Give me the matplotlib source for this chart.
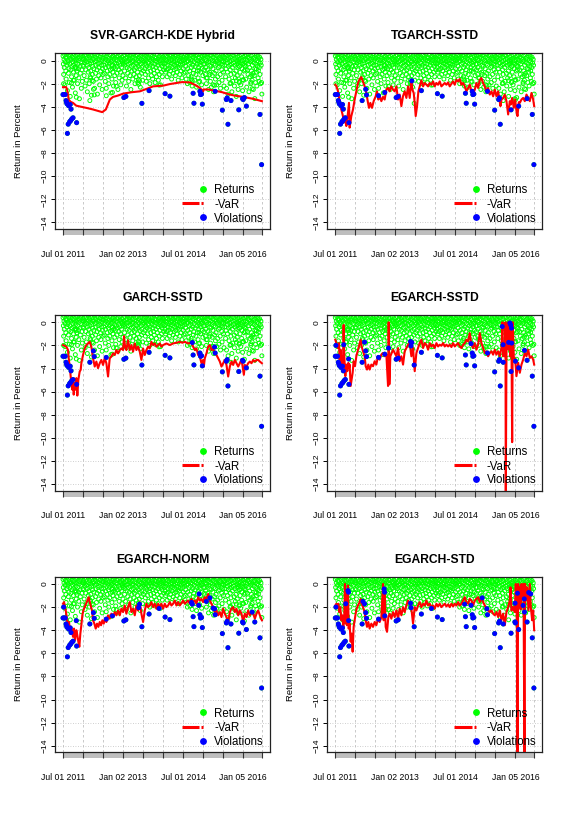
import numpy as np
import matplotlib
matplotlib.use("Agg")
import matplotlib.pyplot as plt
from matplotlib.patches import Rectangle
from matplotlib.transforms import blended_transform_factory

plt.rcParams['font.family'] = ['Liberation Sans', 'DejaVu Sans']

# ---------------- data ----------------
t_start, t_end = 2011.5, 2016.467
x_ticks = [2011.5, 2012.0, 2012.5, 2013.0, 2013.5, 2014.0, 2014.5, 2015.0, 2015.5, 2016.0, 2016.467]
x_ticklabels = ["Jul 01 2011", "", "", "Jan 02 2013", "", "", "Jul 01 2014", "", "", "Jan 05 2016", ""]
y_ticks = [0, -2, -4, -6, -8, -10, -12, -14]

# bulk of daily returns (percent), half-year by half-year
ret_2011h2 = [0.4,-0.3,-1.2,0.1,-0.6,0.5,-2.1,-0.1,0.3,-0.9,-1.6,0.2,-0.4,0.6,-2.6,-0.2,0.0,-1.1,0.4,-0.7,-1.9,0.2,-0.3,-3.1,0.5,-0.8,0.1,-1.4,-0.5,0.3,-2.3,-0.1,0.6,-1.0,-0.4,0.2,-1.7,0.0,-0.6,-2.8,0.4,-0.2,-1.3,0.1,-0.9,0.5,-2.0,-0.3,0.3,-0.7,-1.5,0.0,-3.3,0.2,-0.5,-1.1,0.4,-0.1,-2.4,0.6,-0.8,-1.8,0.1,-0.4]
ret_2012h1 = [0.3,-0.5,0.1,-1.3,0.5,-0.2,-2.2,0.0,-0.8,0.4,-1.7,-0.1,0.2,-2.7,-0.4,0.6,-1.0,0.1,-0.6,-2.0,0.3,-0.3,-1.4,0.5,-0.9,0.0,-3.0,-0.2,0.4,-1.2,-0.5,0.2,-1.8,0.1,-0.7,0.6,-2.4,-0.1,0.3,-1.1,-0.4,0.0,-1.6,0.5,-0.8,-2.9,0.2,-0.3,0.4,-1.3,-0.6,0.1,-2.1,-0.2,0.3,-0.9,-1.5,0.6,-0.4,0.0,-2.5,-0.7,0.2,-1.2]
ret_2012h2 = [0.2,-0.4,0.5,-1.1,-0.1,0.3,-1.8,-0.6,0.1,-2.4,0.4,-0.2,-0.9,0.6,-1.4,0.0,-0.5,-2.0,0.2,-0.3,-1.2,0.5,-0.8,0.1,-2.8,-0.1,0.3,-1.6,-0.4,0.0,-1.0,0.4,-2.2,-0.6,0.2,-0.2,-1.3,0.6,-0.7,-1.9,0.1,-0.3,0.3,-1.1,-0.5,0.0,-2.5,0.4,-0.2,-0.8,-1.5,0.2,-0.4,0.5,-1.0,-2.1,0.1,-0.6,0.3,-1.7,-0.1,0.0,-1.3,-0.3]
ret_2013h1 = [0.4,-0.2,0.1,-0.9,0.5,-0.4,-1.5,0.2,-0.1,-2.2,0.3,-0.6,0.6,-1.1,0.0,-0.3,-1.8,0.2,-0.7,0.4,-1.3,-0.2,0.1,-2.5,0.5,-0.5,-0.9,0.3,-0.1,-1.6,0.0,-0.4,0.6,-1.2,-0.8,0.2,-2.0,-0.2,0.4,-0.6,-1.4,0.1,-0.3,0.5,-1.0,-1.9,0.0,-0.5,0.3,-0.1,-1.3,0.2,-0.7,-2.3,0.4,-0.3,0.1,-1.1,-0.6,0.6,-1.7,-0.2,0.0,-0.9]
ret_2013h2 = [0.3,-0.1,0.5,-0.7,0.1,-1.2,-0.3,0.4,-1.8,0.0,-0.5,0.6,-1.0,0.2,-0.2,-1.5,0.3,-0.6,0.1,-2.0,-0.4,0.5,-0.9,0.0,-1.3,0.2,-0.2,0.4,-1.6,-0.5,0.1,-0.8,0.6,-1.1,-0.3,0.3,-1.9,0.0,-0.6,0.2,-1.4,-0.1,0.5,-0.9,-0.4,0.1,-1.7,0.3,-0.2,-1.2,0.4,-0.7,0.0,-2.1,0.2,-0.3,-1.0,0.6,-0.5,-1.4,0.1,-0.2,0.3,-0.8]
ret_2014h1 = [0.2,-0.3,0.5,-0.6,0.1,-1.0,-0.2,0.4,-0.8,0.0,-1.4,0.3,-0.4,0.6,-0.7,-0.1,0.2,-1.2,0.4,-0.5,0.0,-0.9,0.5,-0.2,-1.6,0.1,-0.6,0.3,-0.3,-1.1,0.6,-0.1,-0.8,0.2,-0.4,0.4,-1.3,0.0,-0.7,0.5,-0.2,-1.0,0.1,-0.5,0.3,-1.7,-0.3,0.6,-0.6,0.0,-1.2,0.2,-0.4,0.4,-0.9,-0.1,0.5,-1.5,0.1,-0.3,0.3,-0.7,0.0,-1.1]
ret_2014h2 = [0.3,-0.2,0.1,-1.0,0.5,-0.5,-1.6,0.2,-0.1,0.4,-2.0,-0.7,0.0,0.6,-1.3,-0.3,0.2,-0.9,-1.9,0.4,-0.2,0.1,-1.4,-0.6,0.5,-2.2,0.0,-0.4,0.3,-1.1,-0.8,0.6,-0.1,-1.7,0.2,-0.5,0.4,-1.2,0.1,-2.3,-0.3,0.5,-0.9,0.0,-1.5,0.3,-0.6,-0.2,0.2,-1.8,0.6,-0.4,-1.0,0.1,-0.1,-2.1,0.4,-0.7,0.0,-1.3,0.2,-0.3,0.5,-0.8]
ret_2015h1 = [0.4,-0.3,0.1,-1.2,-0.6,0.5,-2.0,0.0,-0.2,-1.5,0.3,-0.8,0.6,-2.5,-0.1,0.2,-1.0,-0.4,0.4,-1.8,0.1,-0.5,-2.3,0.5,-0.2,-1.3,0.0,-0.7,0.3,-2.7,-0.3,0.6,-1.1,0.2,-0.4,-1.6,0.1,-0.9,0.4,-2.1,-0.1,0.0,-1.4,0.5,-0.6,-0.2,-1.9,0.3,-0.5,0.1,-1.2,-2.4,0.2,-0.3,0.6,-0.8,-1.7,0.0,-0.4,0.4,-1.0,-0.1,-2.2,0.2]
ret_2015h2 = [0.3,-0.4,0.0,-1.4,0.5,-0.7,-2.4,0.1,-0.2,-1.0,0.4,-2.9,-0.5,0.2,-1.6,0.6,-0.1,-2.0,-0.8,0.3,-1.2,0.0,-0.3,-2.7,0.5,-0.6,-1.8,0.1,-0.2,0.4,-1.1,-2.2,-0.4,0.2,-1.5,0.6,-0.9,-3.1,0.0,-0.3,-1.3,0.3,-0.6,-2.5,0.1,-0.1,-1.9,0.4,-0.5,-1.0,0.2,-2.1,-0.2,0.5,-1.4,-0.7,0.0,-2.6,0.3,-0.3,-1.7,0.1,-0.9,-0.4]
ret_2016h1 = [0.4,-0.5,0.1,-1.6,-0.2,0.5,-2.3,0.0,-0.8,0.3,-1.2,-0.3,0.6,-2.7,0.2,-0.6,-1.4,0.1,-0.1,-2.0,0.4,-0.9,0.0,-1.7,-0.4,0.5,-1.1,-2.5,0.2,-0.2,-1.3,0.3,-0.7,0.1,-1.9,-0.3,0.6,-1.0,-2.2,0.0,-0.5,0.4,-1.5,-0.1,0.2,-1.8,-0.6,0.3,-1.2,-0.2,-2.0,0.1,-0.4,-1.9,-2.9]

# notable (large) losses: dates (decimal year) and returns
loss_t = [2011.500, 2011.515, 2011.530, 2011.555, 2011.575, 2011.590, 2011.600, 2011.610, 2011.630, 2011.640,
          2011.665, 2011.680, 2011.690, 2011.700, 2011.710, 2011.720, 2011.750, 2011.760, 2011.815, 2011.828,
          2011.832, 2011.840, 2012.170, 2012.190, 2012.230, 2012.260, 2012.280, 2012.580, 2012.720, 2012.730,
          2012.735, 2012.830, 2013.020, 2013.070, 2013.380, 2013.390, 2013.410, 2013.470, 2013.650, 2013.900,
          2014.050, 2014.170, 2014.710, 2014.730, 2014.750, 2014.770, 2014.890, 2014.900, 2014.920, 2014.935,
          2014.960, 2014.980, 2015.080, 2015.170, 2015.250, 2015.285, 2015.300, 2015.480, 2015.580, 2015.600,
          2015.620, 2015.670, 2015.690, 2015.695, 2015.830, 2015.860, 2015.880, 2015.890, 2015.900, 2015.905,
          2015.990, 2015.985, 2016.000, 2016.030, 2016.050, 2016.080, 2016.190, 2016.220, 2016.225, 2016.290,
          2016.330, 2016.380, 2016.420, 2016.460]
loss_v = [-2.94, -2.00, -2.94, -2.94, -3.46, -3.60, -3.74, -6.30, -5.50, -3.90,
          -5.30, -3.80, -5.20, -4.20, -1.94, -5.05, -4.95, -1.71, -0.57, -0.71,
          -3.17, -5.37, -3.46, -1.51, -1.72, -2.48, -2.97, -3.04, -0.43, -0.71,
          -2.76, -2.23, -3.20, -3.10, -1.66, -2.05, -1.75, -3.70, -2.60, -2.12,
          -2.86, -3.08, -1.60, -1.75, -2.83, -3.69, -1.85, -0.86, -2.66, -2.94,
          -2.90, -3.77, -1.51, -1.20, -2.09, -2.14, -2.66, -4.29, -3.37, -3.23,
          -5.51, -0.37, -1.94, -3.46, -1.74, -0.06, -0.23, -4.26, -0.51, -1.80,
          -1.66, -3.29, -3.37, -3.20, -0.80, -3.94, -1.86, -1.29, -2.43, -3.29,
          -0.74, -0.86, -4.66, -9.00]

# -VaR series of each model
svr_t = [2011.5, 2011.58, 2011.60, 2011.625, 2011.64, 2011.69, 2011.75, 2011.83, 2011.96, 2012.08,
         2012.25, 2012.42, 2012.48, 2012.57, 2012.67, 2012.75, 2012.87, 2013.0, 2013.21, 2013.42,
         2013.54, 2013.75, 2014.0, 2014.17, 2014.33, 2014.48, 2014.67, 2014.79, 2014.92, 2015.0,
         2015.01, 2015.12, 2015.29, 2015.48, 2015.67, 2015.79, 2016.0, 2016.25, 2016.467]
svr_v = [-2.3, -2.3, -2.5, -2.94, -3.37, -3.57, -3.66, -3.9, -4.0, -4.09,
         -4.23, -4.4, -4.46, -4.23, -3.37, -3.14, -3.03, -2.86, -2.74, -2.66,
         -2.51, -2.23, -2.17, -2.03, -1.94, -1.86, -1.89, -2.09, -2.37, -2.66,
         -2.5, -2.5, -2.6, -2.74, -2.94, -3.03, -3.14, -3.31, -3.51]

tg_t = [2011.5, 2011.525, 2011.567, 2011.608, 2011.65, 2011.69, 2011.717, 2011.733, 2011.758, 2011.775,
        2011.817, 2011.842, 2011.858, 2011.9, 2011.942, 2011.983, 2012.025, 2012.067, 2012.108, 2012.15,
        2012.19, 2012.233, 2012.275, 2012.317, 2012.342, 2012.375, 2012.417, 2012.458, 2012.508, 2012.542,
        2012.575, 2012.608, 2012.65, 2012.692, 2012.733, 2012.775, 2012.817, 2012.858, 2012.9, 2012.942,
        2012.983, 2013.025, 2013.067, 2013.108, 2013.15, 2013.19, 2013.233, 2013.275, 2013.317, 2013.358,
        2013.4, 2013.425, 2013.458, 2013.483, 2013.508, 2013.542, 2013.575, 2013.608, 2013.65, 2013.692,
        2013.733, 2013.775, 2013.817, 2013.858, 2013.9, 2013.942, 2013.983, 2014.025, 2014.067, 2014.108,
        2014.15, 2014.192, 2014.233, 2014.275, 2014.317, 2014.358, 2014.4, 2014.442, 2014.483, 2014.525,
        2014.567, 2014.608, 2014.65, 2014.692, 2014.733, 2014.775, 2014.817, 2014.858, 2014.9, 2014.942,
        2014.983, 2015.025, 2015.067, 2015.108, 2015.15, 2015.192, 2015.233, 2015.275, 2015.317, 2015.358,
        2015.4, 2015.442, 2015.483, 2015.525, 2015.567, 2015.592, 2015.625, 2015.65, 2015.692, 2015.733,
        2015.775, 2015.817, 2015.858, 2015.883, 2015.917, 2015.958, 2015.992, 2016.025, 2016.05, 2016.083,
        2016.108, 2016.15, 2016.192, 2016.233, 2016.275, 2016.317, 2016.358, 2016.4, 2016.442, 2016.467]
tg_v = [-2.09, -2.17, -2.66, -3.51, -4.23, -4.8, -5.37, -5.09, -4.94, -5.66,
        -4.51, -3.66, -5.8, -4.8, -4.23, -3.37, -2.66, -1.94, -1.6, -1.43,
        -1.8, -2.23, -2.8, -3.66, -4.09, -3.66, -4.09, -3.51, -3.09, -2.66,
        -3.37, -3.03, -3.51, -3.14, -3.37, -2.51, -2.37, -2.66, -2.23, -2.51,
        -2.66, -2.23, -3.37, -2.94, -3.94, -3.09, -2.66, -3.23, -2.23, -3.23,
        -1.66, -2.51, -2.8, -3.66, -4.8, -3.94, -2.66, -2.23, -1.71, -2.23,
        -1.94, -2.09, -2.23, -1.94, -2.09, -1.8, -2.23, -1.94, -2.09, -1.8,
        -2.23, -2.09, -1.94, -2.09, -1.89, -2.23, -2.0, -1.8, -2.09, -1.66,
        -1.8, -1.6, -2.09, -1.94, -2.23, -2.66, -2.37, -2.09, -2.66, -2.94,
        -2.51, -1.94, -2.37, -1.66, -1.51, -1.94, -2.23, -2.66, -2.37, -2.94,
        -2.66, -3.09, -2.51, -3.09, -2.66, -3.23, -3.94, -3.37, -3.23, -2.94,
        -3.51, -4.66, -3.51, -3.8, -3.23, -4.09, -3.37, -4.37, -4.8, -3.6,
        -3.66, -3.37, -3.23, -3.51, -2.94, -3.23, -3.51, -2.8, -3.37, -3.94]

gs_t = [2011.5, 2011.583, 2011.625, 2011.642, 2011.667, 2011.692, 2011.708, 2011.733, 2011.75, 2011.767,
        2011.792, 2011.817, 2011.833, 2011.858, 2011.883, 2011.917, 2011.942, 2011.958, 2012.0, 2012.042,
        2012.083, 2012.125, 2012.167, 2012.208, 2012.25, 2012.292, 2012.333, 2012.375, 2012.417, 2012.458,
        2012.5, 2012.542, 2012.583, 2012.625, 2012.667, 2012.708, 2012.75, 2012.792, 2012.833, 2012.875,
        2012.917, 2012.958, 2013.0, 2013.025, 2013.05, 2013.083, 2013.125, 2013.167, 2013.208, 2013.25,
        2013.292, 2013.333, 2013.375, 2013.417, 2013.458, 2013.5, 2013.542, 2013.583, 2013.625, 2013.667,
        2013.708, 2013.75, 2013.792, 2013.833, 2013.875, 2013.917, 2013.958, 2014.0, 2014.083, 2014.167,
        2014.25, 2014.333, 2014.417, 2014.483, 2014.542, 2014.625, 2014.708, 2014.75, 2014.792, 2014.833,
        2014.875, 2014.917, 2014.958, 2015.0, 2015.017, 2015.042, 2015.083, 2015.125, 2015.167, 2015.208,
        2015.25, 2015.292, 2015.333, 2015.375, 2015.417, 2015.458, 2015.5, 2015.542, 2015.583, 2015.625,
        2015.667, 2015.708, 2015.75, 2015.792, 2015.833, 2015.875, 2015.917, 2015.958, 2016.017, 2016.042,
        2016.083, 2016.125, 2016.167, 2016.208, 2016.25, 2016.292, 2016.333, 2016.375, 2016.417, 2016.467]
gs_v = [-1.97, -2.11, -2.4, -3.11, -3.83, -4.69, -5.26, -5.83, -4.97, -6.26,
        -5.26, -5.83, -4.83, -6.34, -4.97, -4.26, -4.11, -3.54, -2.83, -2.26,
        -1.97, -1.83, -1.69, -2.11, -3.11, -3.83, -3.4, -3.97, -3.54, -3.26,
        -3.69, -3.11, -3.54, -4.69, -3.11, -2.97, -2.69, -2.83, -2.4, -2.69,
        -2.4, -2.26, -2.4, -1.2, -2.11, -2.4, -1.55, -2.4, -1.97, -2.54,
        -1.83, -2.4, -2.11, -2.54, -3.26, -2.26, -2.83, -2.4, -2.11, -2.26,
        -1.69, -1.97, -1.83, -2.11, -1.97, -1.83, -2.11, -1.97, -1.83, -1.97,
        -1.83, -1.77, -1.69, -1.77, -1.69, -1.83, -1.77, -2.11, -2.4, -2.26,
        -2.83, -2.97, -3.54, -3.26, -3.83, -3.11, -2.69, -2.11, -1.97, -2.4,
        -2.26, -2.69, -2.83, -3.11, -3.4, -3.83, -3.54, -3.26, -3.69, -4.69,
        -3.83, -3.4, -3.69, -3.26, -3.54, -3.83, -3.54, -3.2, -4.54, -3.69,
        -3.83, -3.54, -3.4, -3.54, -3.26, -3.4, -3.26, -3.26, -3.4, -3.54]

es_t = [2011.5, 2011.525, 2011.567, 2011.592, 2011.608, 2011.633, 2011.65, 2011.675, 2011.692, 2011.708,
        2011.725, 2011.75, 2011.775, 2011.8, 2011.825, 2011.842, 2011.858, 2011.883, 2011.908, 2011.933,
        2011.958, 2011.992, 2012.025, 2012.067, 2012.108, 2012.133, 2012.158, 2012.192, 2012.233, 2012.258,
        2012.292, 2012.325, 2012.358, 2012.4, 2012.442, 2012.483, 2012.525, 2012.567, 2012.608, 2012.65,
        2012.692, 2012.733, 2012.775, 2012.817, 2012.833, 2012.85, 2012.875, 2012.908, 2012.942, 2012.983,
        2013.025, 2013.067, 2013.108, 2013.15, 2013.192, 2013.233, 2013.275, 2013.317, 2013.358, 2013.4,
        2013.442, 2013.483, 2013.525, 2013.567, 2013.608, 2013.65, 2013.692, 2013.733, 2013.775, 2013.817,
        2013.858, 2013.9, 2013.942, 2013.983, 2014.025, 2014.067, 2014.108, 2014.15, 2014.192, 2014.233,
        2014.275, 2014.317, 2014.358, 2014.4, 2014.442, 2014.483, 2014.525, 2014.567, 2014.608, 2014.65,
        2014.692, 2014.733, 2014.775, 2014.817, 2014.858, 2014.9, 2014.942, 2014.983, 2015.025, 2015.067,
        2015.108, 2015.15, 2015.192, 2015.233, 2015.275, 2015.317, 2015.358, 2015.4, 2015.442, 2015.483,
        2015.525, 2015.567, 2015.608, 2015.65, 2015.675, 2015.692, 2015.717, 2015.733, 2015.75, 2015.758,
        2015.775, 2015.8, 2015.817, 2015.833, 2015.85, 2015.867, 2015.883, 2015.9, 2015.917, 2015.933,
        2015.958, 2015.992, 2016.025, 2016.067, 2016.108, 2016.15, 2016.192, 2016.233, 2016.275, 2016.317,
        2016.358, 2016.4, 2016.442, 2016.467]
es_v = [-1.51, -1.8, -2.23, -1.8, -3.23, -2.37, -3.94, -2.94, -3.51, -0.23,
        -2.94, -4.66, -3.66, -4.23, -3.51, -3.94, -3.66, -5.51, -4.94, -4.37,
        -3.37, -3.8, -2.94, -2.37, -1.8, -1.51, -2.09, -2.51, -2.94, -3.8,
        -4.09, -3.66, -4.09, -3.66, -3.8, -3.37, -3.66, -2.94, -3.23, -2.8,
        -2.66, -2.94, -2.8, -5.51, 0.0, -5.37, -2.94, -2.66, -2.37, -2.66,
        -2.94, -2.23, -3.37, -2.94, -3.66, -2.51, -2.23, -1.94, -1.8, -2.94,
        -2.23, -4.23, -2.66, -2.23, -1.8, -1.51, -2.23, -1.8, -1.94, -2.37,
        -1.8, -2.09, -1.94, -2.23, -1.8, -2.09, -1.94, -2.03, -1.8, -2.09,
        -1.94, -2.09, -1.94, -2.14, -1.8, -2.09, -1.94, -1.8, -2.09, -2.23,
        -1.94, -1.8, -1.51, -1.66, -0.94, -1.94, -2.23, -1.8, -2.37, -1.94,
        -0.94, -1.8, -2.23, -2.66, -2.51, -2.94, -2.66, -2.51, -2.8, -2.37,
        -2.8, -2.51, -2.94, -2.23, 0.0, -2.94, -2.37, -2.94, 0.0, -15.0,
        -2.66, -0.66, 0.0, -2.37, 0.0, -2.94, 0.0, -1.51, -10.37, 0.0,
        -3.0, -3.2, -4.66, -3.5, -4.37, -3.66, -3.23, -2.66, -2.94, -2.37,
        -3.09, -2.94, -3.23, -3.66]

en_t = [2011.5, 2011.525, 2011.55, 2011.575, 2011.6, 2011.625, 2011.65, 2011.675, 2011.7, 2011.725,
        2011.75, 2011.775, 2011.8, 2011.833, 2011.858, 2011.883, 2011.908, 2011.933, 2011.958, 2011.983,
        2012.008, 2012.042, 2012.075, 2012.108, 2012.142, 2012.167, 2012.2, 2012.225, 2012.25, 2012.283,
        2012.317, 2012.35, 2012.383, 2012.417, 2012.45, 2012.483, 2012.517, 2012.55, 2012.583, 2012.625,
        2012.667, 2012.708, 2012.75, 2012.792, 2012.833, 2012.875, 2012.917, 2012.958, 2013.0, 2013.042,
        2013.083, 2013.125, 2013.167, 2013.208, 2013.25, 2013.292, 2013.333, 2013.375, 2013.417, 2013.458,
        2013.5, 2013.542, 2013.583, 2013.625, 2013.667, 2013.708, 2013.75, 2013.792, 2013.833, 2013.875,
        2013.917, 2013.958, 2014.0, 2014.042, 2014.083, 2014.125, 2014.167, 2014.208, 2014.25, 2014.292,
        2014.333, 2014.375, 2014.417, 2014.458, 2014.5, 2014.542, 2014.583, 2014.625, 2014.667, 2014.708,
        2014.75, 2014.792, 2014.833, 2014.875, 2014.917, 2014.958, 2015.0, 2015.042, 2015.083, 2015.125,
        2015.167, 2015.208, 2015.25, 2015.292, 2015.333, 2015.375, 2015.417, 2015.458, 2015.5, 2015.542,
        2015.583, 2015.625, 2015.667, 2015.708, 2015.75, 2015.792, 2015.833, 2015.875, 2015.917, 2015.958,
        2016.0, 2016.042, 2016.083, 2016.125, 2016.167, 2016.208, 2016.25, 2016.292, 2016.333, 2016.375,
        2016.417, 2016.467]
en_v = [-1.71, -1.57, -2.0, -2.43, -3.14, -3.71, -3.29, -4.14, -3.71, -4.0,
        -4.57, -3.86, -4.86, -4.0, -4.43, -5.0, -5.43, -4.29, -3.57, -2.71,
        -2.29, -2.0, -1.71, -1.43, -1.14, -1.57, -2.0, -2.29, -3.14, -3.43,
        -3.86, -3.43, -3.71, -3.29, -3.57, -3.14, -3.43, -3.0, -3.29, -2.71,
        -3.0, -2.57, -2.86, -2.43, -2.71, -2.29, -2.71, -2.14, -2.43, -1.86,
        -2.57, -2.0, -1.57, -2.43, -2.14, -2.71, -1.86, -2.29, -1.57, -2.57,
        -3.29, -2.29, -1.71, -2.0, -1.86, -1.57, -2.0, -1.71, -2.14, -1.71,
        -2.0, -1.71, -2.14, -1.71, -2.0, -1.86, -1.57, -1.86, -1.71, -1.43,
        -1.86, -1.57, -1.86, -1.66, -1.43, -1.71, -1.57, -1.43, -1.71, -1.29,
        -1.57, -1.43, -1.71, -1.14, -1.43, -1.29, -1.57, -1.14, -1.29, -0.86,
        -1.43, -1.71, -2.0, -2.43, -2.29, -2.71, -2.43, -2.86, -2.14, -2.57,
        -2.86, -3.29, -2.43, -2.14, -2.0, -2.43, -2.14, -2.71, -2.29, -2.57,
        -3.29, -2.57, -2.86, -2.29, -2.71, -2.43, -2.57, -3.0, -2.57, -2.29,
        -2.71, -3.14]

est_t = [2011.5, 2011.525, 2011.55, 2011.575, 2011.6, 2011.625, 2011.65, 2011.675, 2011.7, 2011.725,
         2011.742, 2011.758, 2011.775, 2011.792, 2011.817, 2011.833, 2011.858, 2011.883, 2011.908, 2011.933,
         2011.958, 2011.983, 2012.008, 2012.033, 2012.067, 2012.108, 2012.133, 2012.158, 2012.192, 2012.233,
         2012.258, 2012.292, 2012.325, 2012.358, 2012.4, 2012.442, 2012.483, 2012.525, 2012.567, 2012.608,
         2012.65, 2012.692, 2012.708, 2012.733, 2012.758, 2012.792, 2012.825, 2012.858, 2012.9, 2012.942,
         2012.983, 2013.025, 2013.067, 2013.108, 2013.15, 2013.192, 2013.233, 2013.275, 2013.317, 2013.358,
         2013.4, 2013.442, 2013.483, 2013.525, 2013.567, 2013.608, 2013.65, 2013.692, 2013.733, 2013.775,
         2013.817, 2013.858, 2013.9, 2013.942, 2013.983, 2014.025, 2014.067, 2014.108, 2014.15, 2014.192,
         2014.233, 2014.275, 2014.317, 2014.358, 2014.4, 2014.442, 2014.483, 2014.525, 2014.567, 2014.608,
         2014.65, 2014.692, 2014.733, 2014.775, 2014.817, 2014.858, 2014.9, 2014.942, 2014.983, 2015.025,
         2015.067, 2015.108, 2015.15, 2015.192, 2015.233, 2015.275, 2015.317, 2015.358, 2015.4, 2015.442,
         2015.483, 2015.525, 2015.567, 2015.608, 2015.65, 2015.692, 2015.733, 2015.775, 2015.817, 2015.858,
         2015.875, 2015.9, 2015.942, 2015.983, 2016.008, 2016.033, 2016.05, 2016.067, 2016.092, 2016.108,
         2016.13, 2016.15, 2016.175, 2016.2, 2016.225, 2016.24, 2016.258, 2016.292, 2016.325, 2016.358,
         2016.383, 2016.417, 2016.442, 2016.467]
est_v = [-1.86, -1.71, -2.0, -1.71, -2.43, -2.0, -3.14, -2.71, -3.71, -2.57,
         0.0, -3.43, -0.57, -3.57, -0.14, -3.86, -3.43, -5.0, -4.29, -5.86,
         -3.71, -3.14, -2.57, -2.14, -1.86, -1.57, -1.29, -1.71, -2.0, -2.43,
         -3.14, -3.71, -3.29, -3.86, -3.43, -3.71, -3.29, -3.57, -3.0, -3.29,
         -2.86, 0.0, -3.14, -0.57, -3.71, -4.14, -2.86, -2.57, -3.0, -2.43,
         -2.86, -2.29, -3.0, -2.14, -2.71, -2.0, -2.43, -1.86, -1.43, -1.71,
         -2.14, -3.43, -2.0, -2.29, -1.86, -1.57, -2.0, -1.71, -1.86, -1.43,
         -1.86, -1.71, -2.0, -1.86, -2.14, -1.71, -1.94, -1.71, -2.0, -1.86,
         -1.71, -1.94, -1.77, -2.0, -1.71, -1.94, -1.71, -1.86, -1.57, -1.86,
         -1.71, -1.43, -1.14, -1.57, -1.71, -1.29, -1.43, -1.86, -1.43, -1.29,
         -1.14, -1.57, -1.14, -1.57, -1.86, -2.14, -2.29, -2.43, -2.29, -2.57,
         -2.71, -2.43, -2.86, -2.29, -3.14, -2.57, -3.57, -2.43, -2.0, -1.43,
         -0.29, -2.29, -2.0, -2.43, 0.0, -3.0, -15.0, 0.0, -2.0, -0.3,
         -2.2, 0.0, -1.14, 0.0, -15.0, 0.0, -1.43, -0.29, -2.29, 0.0,
         -2.0, -3.14, -2.29, -4.0]

viol_svr = [0,2,3,4,5,6,7,8,9,10,11,12,13,15,16,21,32,33,37,38,40,41,44,45,48,49,50,51,56,57,58,59,60,63,67,71,72,73,75,82,83]
viol_tg = [0,2,3,4,5,6,7,8,9,10,11,12,13,15,16,21,22,25,26,27,30,32,33,36,38,40,41,44,45,48,49,50,51,56,57,58,59,60,67,75,79,82,83]
viol_gs = [0,2,3,4,5,6,7,8,9,10,11,12,13,15,16,21,22,25,26,27,32,33,37,38,40,41,43,44,45,48,49,50,51,55,56,57,58,59,60,67,71,72,75,82,83]
viol_es = [0,1,2,3,4,5,6,7,8,9,10,11,12,13,14,15,16,20,21,22,24,25,26,27,30,31,32,33,34,35,36,37,38,40,41,44,45,46,48,49,50,51,56,57,58,59,60,61,62,63,64,65,66,67,68,69,72,75,78,79,82,83]
viol_en = [0,1,2,3,4,5,6,7,8,9,10,11,12,13,15,16,20,21,22,25,26,27,30,32,33,35,36,37,38,39,40,41,42,43,44,45,46,47,48,49,50,51,52,53,54,55,56,57,58,59,60,63,67,71,72,75,78,79,82,83]
viol_est = [0,1,2,3,4,5,6,7,8,9,10,11,12,13,15,16,17,18,19,20,21,22,23,24,25,26,27,28,29,30,32,33,34,35,37,38,39,40,41,43,44,45,46,48,49,50,51,53,55,56,57,58,59,60,63,67,70,71,72,74,75,76,77,78,79,80,81,82,83]

titles = ["SVR-GARCH-KDE Hybrid", "TGARCH-SSTD", "GARCH-SSTD", "EGARCH-SSTD", "EGARCH-NORM", "EGARCH-STD"]
var_series = [(svr_t, svr_v), (tg_t, tg_v), (gs_t, gs_v), (es_t, es_v), (en_t, en_v), (est_t, est_v)]
violations = [viol_svr, viol_tg, viol_gs, viol_es, viol_en, viol_est]
legend_labels = ["Returns", "-VaR", "Violations"]

# ---------------- figure ----------------
W, H = 579, 818
fig = plt.figure(figsize=(W / 100, H / 100), dpi=100)
col_left = [55.0, 327.3]
row_top = [53.3, 315.0, 576.7]
aw, ah = 215.0, 175.7

bulk = (ret_2011h2 + ret_2012h1 + ret_2012h2 + ret_2013h1 + ret_2013h2 +
        ret_2014h1 + ret_2014h2 + ret_2015h1 + ret_2015h2 + ret_2016h1)
bulk_t = np.linspace(t_start, t_end, len(bulk))
loss_t_a = np.array(loss_t)
loss_v_a = np.array(loss_v)

GREEN, RED, BLUE = "#00FF00", "#FF0000", "#0000FF"

for i, title in enumerate(titles):
    r, c = divmod(i, 2)
    ax = fig.add_axes([col_left[c] / W, 1 - (row_top[r] + ah) / H, aw / W, ah / H])
    ax.set_xlim(2011.30, 2016.67)
    ax.set_ylim(-14.57, 0.63)

    for xt in x_ticks:
        ax.axvline(xt, color="#C0C0C0", lw=0.6, ls=(0, (3, 3)), zorder=0.5)
    for yt in y_ticks:
        ax.axhline(yt, color="#C0C0C0", lw=0.6, ls=(0, (1, 2)), zorder=0.5)

    ax.scatter(bulk_t, bulk, s=8, facecolors="none", edgecolors=GREEN, linewidths=0.7, zorder=2)
    ax.scatter(loss_t_a, loss_v_a, s=8, facecolors="none", edgecolors=GREEN, linewidths=0.7, zorder=2)

    vt, vv = var_series[i]
    ax.plot(vt, vv, color=RED, lw=1.5, zorder=3)

    idx = np.array(violations[i])
    ax.scatter(loss_t_a[idx], loss_v_a[idx], s=13, color=BLUE, edgecolors="none", zorder=4)

    for sp in ax.spines.values():
        sp.set_linewidth(0.9)
        sp.set_color("#222222")
        sp.set_zorder(5)

    ax.set_yticks(y_ticks)
    ax.tick_params(axis="y", direction="out", length=2.9, width=0.7, labelsize=6.1, pad=2.0)
    for lab in ax.get_yticklabels():
        lab.set_rotation(90)
        lab.set_va("center")
    ax.set_xticks(x_ticks)
    ax.set_xticklabels(x_ticklabels)
    ax.tick_params(axis="x", direction="out", length=4.3, width=0.8, color="#333333",
                   labelsize=6.2, pad=10.5)

    trans = blended_transform_factory(ax.transData, ax.transAxes)
    ax.add_patch(Rectangle((x_ticks[0], -6 / ah), x_ticks[-1] - x_ticks[0], 6 / ah,
                           transform=trans, facecolor="#BEBEBE", edgecolor="none",
                           clip_on=False, zorder=1))

    ax.set_title(title, fontsize=8.7, fontweight="bold", pad=10)
    ax.set_ylabel("Return in Percent", fontsize=6.8)
    ax.yaxis.set_label_coords(-32.3 / aw, 0.5)

    # legend (no box)
    mx, tx = 0.690, 0.741
    ys = [0.2277, 0.146, 0.0666]
    ax.plot([mx], [ys[0]], marker="o", ms=3.9, color=GREEN, transform=ax.transAxes,
            clip_on=False, zorder=6)
    ax.plot([0.589, 0.672], [ys[1], ys[1]], color=RED, lw=2.2, solid_capstyle="butt",
            transform=ax.transAxes, zorder=6)
    ax.plot([0.680, 0.690], [ys[1], ys[1]], color=RED, lw=2.2, solid_capstyle="butt",
            transform=ax.transAxes, zorder=6)
    ax.plot([mx], [ys[2]], marker="o", ms=3.9, color=BLUE, transform=ax.transAxes,
            clip_on=False, zorder=6)
    for y, lab in zip(ys, legend_labels):
        ax.text(tx, y, lab, fontsize=8.3, ha="left", va="center_baseline",
                transform=ax.transAxes, zorder=6)

fig.savefig("out.png", dpi=100, facecolor="white")
